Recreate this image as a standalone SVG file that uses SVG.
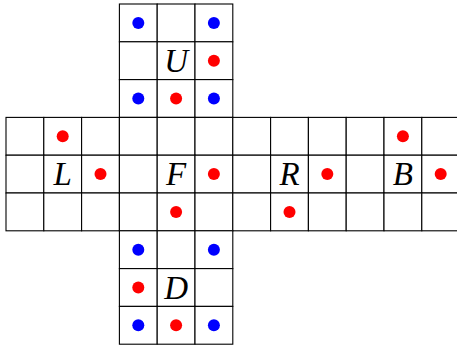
<svg xmlns="http://www.w3.org/2000/svg" width="457" height="347" viewBox="0 0 457 347">
<style>
.c{fill:#fff;stroke:#000;stroke-width:1.1}
.r{fill:#ff0000}
.b{fill:#0000ff}
.t{font-family:"Liberation Serif",serif;font-style:italic;font-size:33px;text-anchor:middle}
</style>
<defs>
<g id="face">
<rect class="c" x="0" y="0" width="37.8" height="37.8"/>
<rect class="c" x="37.8" y="0" width="37.8" height="37.8"/>
<rect class="c" x="75.6" y="0" width="37.8" height="37.8"/>
<rect class="c" x="0" y="37.8" width="37.8" height="37.8"/>
<rect class="c" x="37.8" y="37.8" width="37.8" height="37.8"/>
<rect class="c" x="75.6" y="37.8" width="37.8" height="37.8"/>
<rect class="c" x="0" y="75.6" width="37.8" height="37.8"/>
<rect class="c" x="37.8" y="75.6" width="37.8" height="37.8"/>
<rect class="c" x="75.6" y="75.6" width="37.8" height="37.8"/>
</g>
</defs>
<g id="U">
<use href="#face" x="119.4" y="4"/>
<circle class="b" cx="138.3" cy="22.9" r="6"/>
<circle class="b" cx="213.9" cy="22.9" r="6"/>
<circle class="r" cx="213.9" cy="60.7" r="6"/>
<circle class="b" cx="138.3" cy="98.5" r="6"/>
<circle class="r" cx="176.1" cy="98.5" r="6"/>
<circle class="b" cx="213.9" cy="98.5" r="6"/>
<text class="t" x="176.1" y="71.6">U</text>
</g>
<g id="L">
<use href="#face" x="6" y="117.4"/>
<circle class="r" cx="62.7" cy="136.3" r="6"/>
<circle class="r" cx="100.5" cy="174.1" r="6"/>
<text class="t" x="62.7" y="185.2">L</text>
</g>
<g id="F">
<use href="#face" x="119.4" y="117.4"/>
<circle class="r" cx="213.9" cy="174.1" r="6"/>
<circle class="r" cx="176.1" cy="211.9" r="6"/>
<text class="t" x="176.1" y="185.2">F</text>
</g>
<g id="R">
<use href="#face" x="232.8" y="117.4"/>
<circle class="r" cx="327.3" cy="174.1" r="6"/>
<circle class="r" cx="289.5" cy="211.9" r="6"/>
<text class="t" x="289.5" y="185.2">R</text>
</g>
<g id="B">
<use href="#face" x="346.2" y="117.4"/>
<circle class="r" cx="402.9" cy="136.3" r="6"/>
<circle class="r" cx="440.7" cy="174.1" r="6"/>
<text class="t" x="402.9" y="185.2">B</text>
</g>
<g id="D">
<use href="#face" x="119.4" y="230.8"/>
<circle class="b" cx="138.3" cy="249.7" r="6"/>
<circle class="b" cx="213.9" cy="249.7" r="6"/>
<circle class="r" cx="138.3" cy="287.5" r="6"/>
<circle class="b" cx="138.3" cy="325.3" r="6"/>
<circle class="r" cx="176.1" cy="325.3" r="6"/>
<circle class="b" cx="213.9" cy="325.3" r="6"/>
<text class="t" x="176.1" y="298.6">D</text>
</g>
<g id="connectors"/>
</svg>
